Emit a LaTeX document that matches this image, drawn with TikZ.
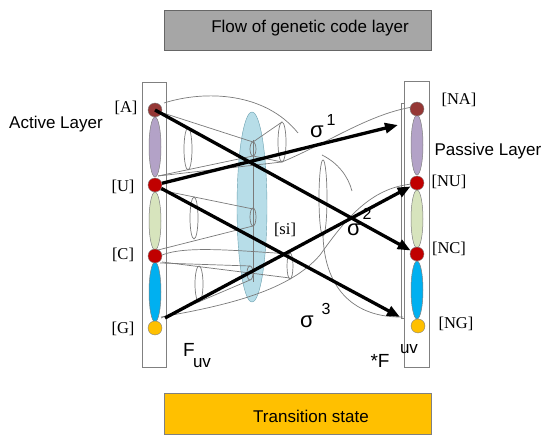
\documentclass[tikz,border=0pt]{standalone}
\usepackage{fontspec}
\setmainfont{Liberation Sans}
\newfontfamily\timesf{Liberation Serif}
\usetikzlibrary{arrows.meta}

\definecolor{boxgray}{HTML}{A6A6A6}
\definecolor{boxorange}{HTML}{FFC000}
\definecolor{dotbrown}{HTML}{953735}
\definecolor{dotred}{HTML}{C00000}
\definecolor{dotyellow}{HTML}{FFC000}
\definecolor{segpurple}{HTML}{B3A2C7}
\definecolor{seggreen}{HTML}{D7E4BD}
\definecolor{segblue}{HTML}{00B0F0}
\definecolor{siblue}{HTML}{B7DDE8}
\definecolor{siedge}{HTML}{6A9FAE}
\definecolor{wire}{HTML}{7A7A7A}

\tikzset{
  txt/.style={font=\fontsize{17}{20}\selectfont, inner sep=0pt},
  brk/.style={font=\timesf\fontsize{16.5}{18}\selectfont, inner sep=0pt},
  sig/.style={font=\fontsize{22}{24}\selectfont, inner sep=0pt},
  sup/.style={font=\fontsize{16}{18}\selectfont, inner sep=0pt},
  dot/.style={draw=gray, circle, inner sep=0pt, minimum size=14pt},
  seg/.style={draw=gray, line width=0.5pt},
  wireline/.style={draw=wire, line width=0.7pt},
  flowarrow/.style={-{Triangle[length=13pt,width=10pt]}, line width=3.3pt}
}

\begin{document}
\begin{tikzpicture}[x=1pt, y=-1pt]
\useasboundingbox (0,0) rectangle (550,443);

% Header and footer
\draw[draw=gray!80!black, fill=boxgray] (164,10) rectangle (431,50);
\node[txt] (flow) at (310,28) {Flow of genetic code layer};
\draw[draw=gray, fill=boxorange] (164,393) rectangle (431,434);
\node[txt] (trans) at (311,416) {Transition state};

% Columns
\draw[draw=gray] (142,82) rectangle (166,367);
\draw[draw=gray] (404,81) rectangle (429,367);
\draw[draw=gray] (401,103) rectangle (404,318);

% Middle body [si]
\draw[siedge, fill=siblue] (252,207) ellipse (15 and 95);

% Thin cones, active side
\draw[wireline] (160,112) -- (253,142);
\draw[wireline] (158,176) -- (253,156);
\draw[wireline] (158,176) -- (282,162);
\draw[wireline] (188,149) ellipse (4 and 21);
\draw[wireline] (160,190) -- (253,209);
\draw[wireline] (158,250) -- (253,226);
\draw[wireline] (194,218) ellipse (4 and 21);
\draw[wireline] (160,263) -- (250,266);
\draw[wireline] (161,318) -- (250,280);
\draw[wireline] (199,284) ellipse (4 and 18);
\draw[wireline] (253,140) -- (253,282);
\draw[wireline] (253,149) ellipse (3 and 7);
\draw[wireline] (253,217) ellipse (3 and 9);
\draw[wireline] (250,273) ellipse (3 and 7);

% Thin cones, toward passive side
\draw[wireline] (164,103) .. controls (205,90) and (265,92) .. (298,133);
\draw[wireline] (253,142) -- (282,122);
\draw[wireline] (253,156) -- (282,162);
\draw[wireline] (282,142) ellipse (4 and 20);
\draw[wireline] (282,162) .. controls (330,142) and (375,110) .. (421,106);
\draw[wireline] (323,198) ellipse (4 and 38);
\draw[wireline] (322,155) .. controls (338,163) and (348,176) .. (352,191);
\draw[wireline] (162,255) .. controls (185,246) and (230,250) .. (290,254);
\draw[wireline] (162,262) -- (290,278);
\draw[wireline] (290,266) ellipse (3 and 13);
\draw[wireline] (161,317) .. controls (230,305) and (290,290) .. (320,255)
  .. controls (345,220) and (370,188) .. (412,184);
\draw[wireline] (323,236) .. controls (325,290) and (355,318) .. (403,317);

% Active layer
\draw[seg, fill=segpurple] (155,147) ellipse (6 and 30);
\draw[seg, fill=seggreen] (155,221) ellipse (6 and 29);
\draw[seg, fill=segblue] (155,292) ellipse (6 and 30);
\node[dot, fill=dotbrown] (A) at (155,110) {};
\node[dot, fill=dotred] (U) at (155,185) {};
\node[dot, fill=dotred] (C) at (155,256) {};
\node[dot, fill=dotyellow] (G) at (155,328) {};
\coordinate (gtip) at (165,318);

% Passive layer
\draw[seg, fill=segpurple] (417,145) ellipse (6 and 30);
\draw[seg, fill=seggreen] (417,219) ellipse (6 and 29);
\draw[seg, fill=segblue] (417,290) ellipse (6 and 29);
\node[dot, fill=dotbrown] (NA) at (417,109) {};
\node[dot, fill=dotred] (NU) at (417,183) {};
\node[dot, fill=dotred] (NC) at (417,254) {};
\node[dot, fill=dotyellow] (NG) at (418,326) {};
\coordinate (natip) at (398,125);
\coordinate (ngtip) at (400,317);

% Labels
\node[txt] (active) at (56,124) {Active Layer};
\node[txt] (passive) at (488,151) {Passive Layer};
\node[brk] (lA) at (126,108) {[A]};
\node[brk] (lU) at (123,187) {[U]};
\node[brk] (lC) at (123,255) {[C]};
\node[brk] (lG) at (123,329) {[G]};
\node[brk] (lNA) at (459,100) {[NA]};
\node[brk] (lNU) at (449,182) {[NU]};
\node[brk] (lNC) at (449,249) {[NC]};
\node[brk] (lNG) at (456,324) {[NG]};
\node[brk] (lsi) at (285,230) {[si]};
\node[txt, font=\fontsize{19}{22}\selectfont] (Fuv) at (189,350) {F};
\node[txt] (Fuvsub) at (202,363) {uv};
\node[txt, font=\fontsize{19}{22}\selectfont] (Fstar) at (380,361) {*F};
\node[txt] (Fstarsup) at (409,349) {uv};
\node[sig] (s1) at (317,132) {σ};
\node[sup] (s1sup) at (331,120) {1};
\node[sig] (s2) at (354,230) {σ};
\node[sup] (s2sup) at (367,214) {2};
\node[sig] (s3) at (307,322) {σ};
\node[sup] (s3sup) at (326,309) {3};

% Transitions
\draw[flowarrow] (A.center) -- (NC);
\draw[flowarrow] (U) -- (natip);
\draw[flowarrow] (U) -- (ngtip);
\draw[flowarrow] (gtip) -- (NU);
\end{tikzpicture}
\end{document}
